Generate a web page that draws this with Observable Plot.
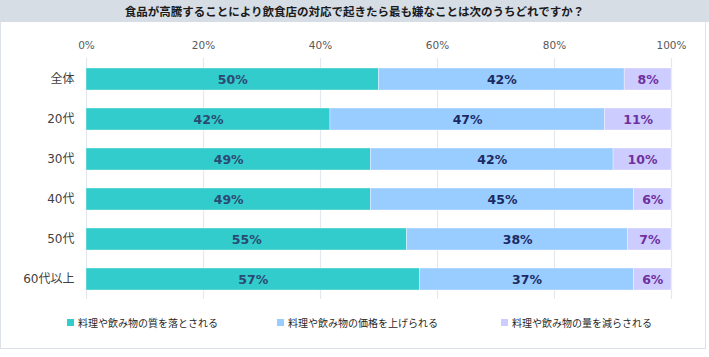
<!DOCTYPE html>
<html>
<head>
<meta charset="utf-8">
<script src="https://cdn.jsdelivr.net/npm/d3@7"></script>
<script src="https://cdn.jsdelivr.net/npm/@observablehq/plot@0.6"></script>
<style>
  html, body { margin: 0; padding: 0; background: #fff; }
  body { width: 709px; height: 357px; position: relative; overflow: hidden; font-family: "DejaVu Sans", "Noto Sans CJK JP", sans-serif; }
  #frame { position: absolute; left: 0; top: 0; width: 706px; height: 349px; box-sizing: border-box; border: 1px solid #dde2e8; }
  #title { position: absolute; left: 0; top: 0; width: 709px; height: 22px; background: #d6dde5; color: #1a1a1a;
           font: bold 11.5px "Noto Sans CJK JP", sans-serif; text-align: center; line-height: 22px; }
  #chart { position: absolute; left: 0; top: 22px; }
  #legend { position: absolute; top: 314px; left: 0; width: 709px; height: 16px; font: 10px "Noto Sans CJK JP", sans-serif; color: #262626; }
  .item { position: absolute; top: 0; display: flex; align-items: center; height: 16px; white-space: nowrap; }
  .sw { width: 7px; height: 7px; margin-right: 4px; }
</style>
</head>
<body>
<div id="frame"></div>
<div id="title">食品が高騰することにより飲食店の対応で起きたら最も嫌なことは次のうちどれですか？</div>
<div id="chart"></div>
<div id="legend"></div>
<script>
const categories = ["全体", "20代", "30代", "40代", "50代", "60代以上"];
const seriesNames = ["料理や飲み物の質を落とされる", "料理や飲み物の価格を上げられる", "料理や飲み物の量を減らされる"];
const quality = [50.0, 41.7, 48.6, 48.6, 54.8, 57.0];
const price   = [42.0, 46.9, 41.5, 45.0, 37.8, 36.6];
const amount  = [8.0, 11.4, 9.9, 6.4, 7.4, 6.4];
const xTicks = [0, 20, 40, 60, 80, 100];
const barColors = ["#33cccc", "#99ccff", "#ccccff"];
const labelColors = ["#2a4a72", "#1c2a62", "#7030a0"];

const seriesValues = [quality, price, amount];
const data = [];
categories.forEach((c, i) => {
  seriesNames.forEach((s, j) => data.push({cat: c, series: s, value: seriesValues[j][i]}));
});

const labelMarks = seriesNames.map((s, j) =>
  Plot.text(data, Plot.stackX({
    x: "value", y: "cat", z: "series", order: seriesNames,
    text: d => d.series === s ? Math.round(d.value) + "%" : "",
    fill: labelColors[j], fontWeight: "bold", fontSize: 12.5,
    fontFamily: "DejaVu Sans, sans-serif"
  }))
);

const chart = Plot.plot({
  width: 706,
  height: 290,
  marginLeft: 86,
  marginRight: 35,
  marginTop: 36,
  marginBottom: 13,
  style: {fontFamily: "DejaVu Sans, Noto Sans CJK JP, sans-serif", background: "transparent"},
  x: {domain: [0, 100], ticks: xTicks, tickFormat: d => d + "%", axis: "top", tickSize: 0, tickPadding: 10, label: null},
  y: {domain: categories, paddingInner: 0.45, paddingOuter: 0.225, tickSize: 0, tickPadding: 12, label: null},
  color: {domain: seriesNames, range: barColors},
  marks: [
    Plot.ruleX(xTicks, {stroke: "#e3e7ee", strokeWidth: 1.2}),
    Plot.barX(data, Plot.stackX({x: "value", y: "cat", fill: "series", order: seriesNames, stroke: "#ffffff", strokeWidth: 0.6, strokeOpacity: 0.6})),
    ...labelMarks
  ]
});
chart.querySelectorAll('[aria-label="x-axis tick label"] text, [aria-label="x-axis"] text').forEach(t => { t.setAttribute("fill", "#595959"); t.style.fontSize = "10.5px"; });
chart.querySelectorAll('[aria-label="y-axis tick label"] text, [aria-label="y-axis"] text').forEach(t => { t.setAttribute("fill", "#404040"); t.style.fontSize = "12px"; });
const xa = chart.querySelector('[aria-label="x-axis tick label"]') || chart.querySelector('[aria-label="x-axis"]');
if (xa) { xa.setAttribute("fill", "#595959"); xa.setAttribute("font-size", "10.5"); }
const ya = chart.querySelector('[aria-label="y-axis tick label"]') || chart.querySelector('[aria-label="y-axis"]');
if (ya) { ya.setAttribute("fill", "#404040"); ya.setAttribute("font-size", "12"); }
document.getElementById("chart").appendChild(chart);

const legendX = [67, 277, 501];
const legend = document.getElementById("legend");
seriesNames.forEach((s, j) => {
  const it = document.createElement("div");
  it.className = "item";
  it.style.left = legendX[j] + "px";
  it.innerHTML = `<span class="sw" style="background:${barColors[j]}"></span><span>${s}</span>`;
  legend.appendChild(it);
});
</script>
</body>
</html>
